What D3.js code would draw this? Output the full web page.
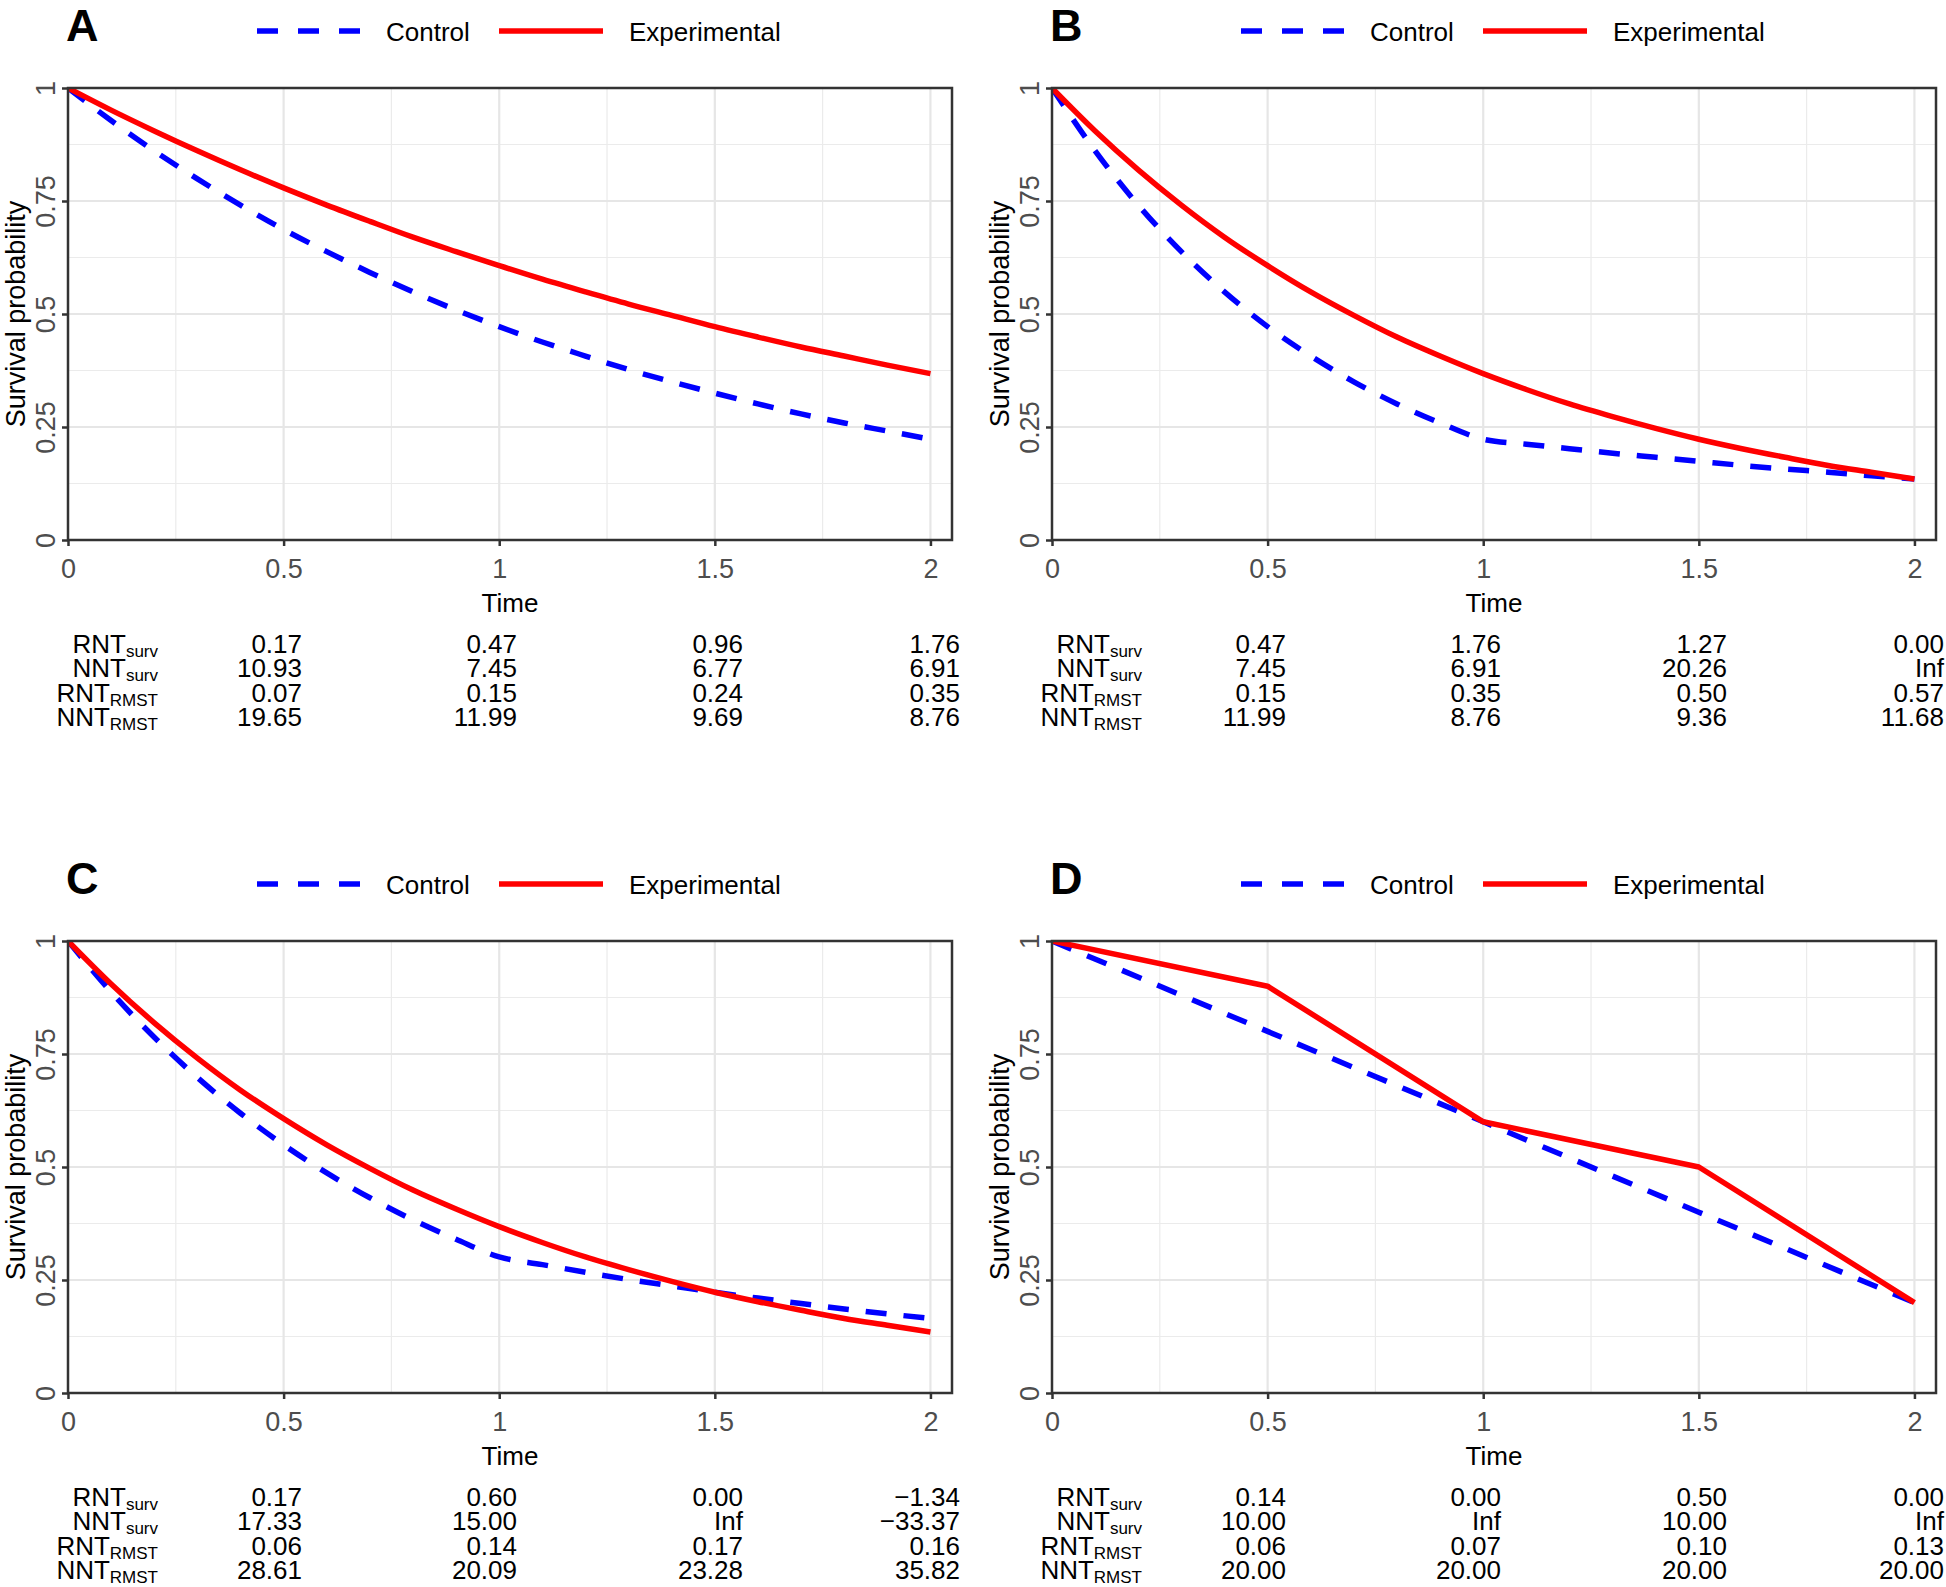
<!DOCTYPE html>
<html lang="en">
  <head>
    <meta charset="utf-8" />
    <title>Survival curves with RNT / NNT tables</title>
    <script src="https://d3js.org/d3.v7.min.js"></script>
    <style>
      body {
        margin: 0;
        background: #fff;
      }

      svg {
        display: block;
        font-family: "Liberation Sans", Arial, sans-serif;
      }

      .axis text {
        fill: #4d4d4d;
        font-size: 27px;
      }

      .axis line {
        stroke: #333;
        stroke-width: 2.5;
      }
    </style>
  </head>

  <body>
    <svg id="chart"></svg>

    <script>
      // time points
      const timeGrid = [0, 0.1, 0.2, 0.3, 0.4, 0.5, 0.6, 0.7, 0.8, 0.9, 1, 1.1, 1.2, 1.3, 1.4, 1.5, 1.6, 1.7, 1.8, 1.9, 2];
      const timeKnots = [0, 0.5, 1, 1.5, 2];

      const controlA = [1, 0.928, 0.861, 0.799, 0.741, 0.687, 0.638, 0.592, 0.549, 0.509, 0.472, 0.438, 0.407, 0.377, 0.35, 0.325, 0.301, 0.279, 0.259, 0.241, 0.223];
      const experimentalA = [1, 0.951, 0.905, 0.861, 0.819, 0.779, 0.741, 0.705, 0.67, 0.638, 0.607, 0.577, 0.549, 0.522, 0.497, 0.472, 0.449, 0.427, 0.407, 0.387, 0.368];

      const controlB = [1, 0.861, 0.741, 0.638, 0.549, 0.472, 0.407, 0.35, 0.301, 0.259, 0.223, 0.212, 0.202, 0.192, 0.183, 0.174, 0.165, 0.157, 0.15, 0.142, 0.135];
      const experimentalB = [1, 0.905, 0.819, 0.741, 0.67, 0.607, 0.549, 0.497, 0.449, 0.407, 0.368, 0.333, 0.301, 0.273, 0.247, 0.223, 0.202, 0.183, 0.165, 0.15, 0.135];

      const controlC = [1, 0.887, 0.787, 0.698, 0.619, 0.549, 0.487, 0.432, 0.383, 0.34, 0.301, 0.284, 0.267, 0.251, 0.237, 0.223, 0.21, 0.198, 0.186, 0.175, 0.165];
      const experimentalC = [1, 0.905, 0.819, 0.741, 0.67, 0.607, 0.549, 0.497, 0.449, 0.407, 0.368, 0.333, 0.301, 0.273, 0.247, 0.223, 0.202, 0.183, 0.165, 0.15, 0.135];

      const controlD = [1, 0.8, 0.6, 0.4, 0.2];
      const experimentalD = [1, 0.9, 0.6, 0.5, 0.2];

      // axis ticks
      const xTicks = [0, 0.5, 1, 1.5, 2];
      const xMinor = [0.25, 0.75, 1.25, 1.75];
      const yTicks = [0, 0.25, 0.5, 0.75, 1];
      const yMinor = [0.125, 0.375, 0.625, 0.875];

      // tables under each plot
      const rowLabels = [
        ["RNT", "surv"],
        ["NNT", "surv"],
        ["RNT", "RMST"],
        ["NNT", "RMST"],
      ];
      const tableA = [
        ["0.17", "0.47", "0.96", "1.76"],
        ["10.93", "7.45", "6.77", "6.91"],
        ["0.07", "0.15", "0.24", "0.35"],
        ["19.65", "11.99", "9.69", "8.76"],
      ];
      const tableB = [
        ["0.47", "1.76", "1.27", "0.00"],
        ["7.45", "6.91", "20.26", "Inf"],
        ["0.15", "0.35", "0.50", "0.57"],
        ["11.99", "8.76", "9.36", "11.68"],
      ];
      const tableC = [
        ["0.17", "0.60", "0.00", "\u22121.34"],
        ["17.33", "15.00", "Inf", "\u221233.37"],
        ["0.06", "0.14", "0.17", "0.16"],
        ["28.61", "20.09", "23.28", "35.82"],
      ];
      const tableD = [
        ["0.14", "0.00", "0.50", "0.00"],
        ["10.00", "Inf", "10.00", "Inf"],
        ["0.06", "0.07", "0.10", "0.13"],
        ["20.00", "20.00", "20.00", "20.00"],
      ];

      const panels = [
        { label: "A", ox: 0, oy: 0, t: timeGrid, control: controlA, exp: experimentalA, table: tableA, curve: d3.curveMonotoneX },
        { label: "B", ox: 984, oy: 0, t: timeGrid, control: controlB, exp: experimentalB, table: tableB, curve: d3.curveMonotoneX },
        { label: "C", ox: 0, oy: 853, t: timeGrid, control: controlC, exp: experimentalC, table: tableC, curve: d3.curveMonotoneX },
        { label: "D", ox: 984, oy: 853, t: timeKnots, control: controlD, exp: experimentalD, table: tableD, curve: d3.curveLinear },
      ];

      const svg = d3.select("#chart").attr("width", 1946).attr("height", 1587);

      const plot = { left: 68, right: 952, top: 88, bottom: 540 };
      const colRight = [302, 517, 743, 960];
      const rowBase = [653, 677, 702, 726];

      function drawPanel(p, i) {
        const g = svg.append("g").attr("transform", `translate(${p.ox},${p.oy})`);

        const x = d3.scaleLinear().domain([0, 2.05]).range([plot.left, plot.right]);
        const y = d3.scaleLinear().domain([0, 1]).range([plot.bottom, plot.top]);

        // grid
        const grid = g.append("g");
        grid
          .selectAll(".vminor")
          .data(xMinor)
          .join("line")
          .attr("x1", (d) => x(d))
          .attr("x2", (d) => x(d))
          .attr("y1", plot.top)
          .attr("y2", plot.bottom)
          .attr("stroke", "#ebebeb")
          .attr("stroke-width", 1.2);
        grid
          .selectAll(".hminor")
          .data(yMinor)
          .join("line")
          .attr("x1", plot.left)
          .attr("x2", plot.right)
          .attr("y1", (d) => y(d))
          .attr("y2", (d) => y(d))
          .attr("stroke", "#ebebeb")
          .attr("stroke-width", 1.2);
        grid
          .selectAll(".vmajor")
          .data(xTicks.slice(1))
          .join("line")
          .attr("x1", (d) => x(d))
          .attr("x2", (d) => x(d))
          .attr("y1", plot.top)
          .attr("y2", plot.bottom)
          .attr("stroke", "#e6e6e6")
          .attr("stroke-width", 2.2);
        grid
          .selectAll(".hmajor")
          .data(yTicks.slice(1, -1))
          .join("line")
          .attr("x1", plot.left)
          .attr("x2", plot.right)
          .attr("y1", (d) => y(d))
          .attr("y2", (d) => y(d))
          .attr("stroke", "#e6e6e6")
          .attr("stroke-width", 2.2);

        // curves, clipped to the panel
        const clipId = `clip${i}`;
        g.append("clipPath")
          .attr("id", clipId)
          .append("rect")
          .attr("x", plot.left)
          .attr("y", plot.top)
          .attr("width", plot.right - plot.left)
          .attr("height", plot.bottom - plot.top);

        const line = d3
          .line()
          .x((d) => x(d[0]))
          .y((d) => y(d[1]))
          .curve(p.curve);

        const lines = g.append("g").attr("clip-path", `url(#${clipId})`);
        lines
          .append("path")
          .datum(p.t.map((t, k) => [t, p.control[k]]))
          .attr("d", line)
          .attr("fill", "none")
          .attr("stroke", "#0000ff")
          .attr("stroke-width", 5.5)
          .attr("stroke-dasharray", "21,17");
        lines
          .append("path")
          .datum(p.t.map((t, k) => [t, p.exp[k]]))
          .attr("d", line)
          .attr("fill", "none")
          .attr("stroke", "#ff0000")
          .attr("stroke-width", 5.5)
          .attr("stroke-linejoin", "round");

        // border
        g.append("rect")
          .attr("x", plot.left)
          .attr("y", plot.top)
          .attr("width", plot.right - plot.left)
          .attr("height", plot.bottom - plot.top)
          .attr("fill", "none")
          .attr("stroke", "#333")
          .attr("stroke-width", 2.5);

        // axes
        const gx = g
          .append("g")
          .attr("class", "axis")
          .attr("transform", `translate(0,${plot.bottom})`)
          .call(d3.axisBottom(x).tickValues(xTicks).tickFormat(d3.format("~g")).tickSize(6).tickPadding(13));
        gx.select(".domain").remove();

        const gy = g
          .append("g")
          .attr("class", "axis")
          .attr("transform", `translate(${plot.left},0)`)
          .call(d3.axisLeft(y).tickValues(yTicks).tickFormat(d3.format("~g")).tickSize(6));
        gy.select(".domain").remove();
        gy.selectAll(".tick text")
          .attr("x", null)
          .attr("dy", null)
          .attr("text-anchor", "middle")
          .attr("transform", "translate(-13,0) rotate(-90)");

        // axis titles
        g.append("text")
          .attr("x", (plot.left + plot.right) / 2)
          .attr("y", 612)
          .attr("text-anchor", "middle")
          .attr("font-size", 26)
          .text("Time");
        g.append("text")
          .attr("transform", `translate(25,${(plot.top + plot.bottom) / 2}) rotate(-90)`)
          .attr("text-anchor", "middle")
          .attr("font-size", 27)
          .text("Survival probability");

        // panel letter
        g.append("text")
          .attr("x", 66)
          .attr("y", 41)
          .attr("font-size", 45)
          .attr("font-weight", "bold")
          .text(p.label);

        // legend
        const lg = g.append("g");
        lg.append("line")
          .attr("x1", 257)
          .attr("x2", 360)
          .attr("y1", 31)
          .attr("y2", 31)
          .attr("stroke", "#0000ff")
          .attr("stroke-width", 5.5)
          .attr("stroke-dasharray", "21,20");
        lg.append("text").attr("x", 386).attr("y", 41).attr("font-size", 26).text("Control");
        lg.append("line")
          .attr("x1", 499)
          .attr("x2", 603)
          .attr("y1", 31)
          .attr("y2", 31)
          .attr("stroke", "#ff0000")
          .attr("stroke-width", 5.5);
        lg.append("text").attr("x", 629).attr("y", 41).attr("font-size", 26).text("Experimental");

        // table
        const tg = g.append("g").attr("font-size", 26);
        rowLabels.forEach((lab, r) => {
          const t = tg.append("text").attr("x", 158).attr("y", rowBase[r]).attr("text-anchor", "end");
          t.append("tspan").text(lab[0]);
          t.append("tspan").attr("font-size", 17).attr("dy", 4).text(lab[1]);
        });
        p.table.forEach((row, r) => {
          tg.selectAll(null)
            .data(row)
            .join("text")
            .attr("x", (d, c) => colRight[c])
            .attr("y", rowBase[r])
            .attr("text-anchor", "end")
            .text((d) => d);
        });
      }

      panels.forEach(drawPanel);
    </script>
  </body>
</html>
